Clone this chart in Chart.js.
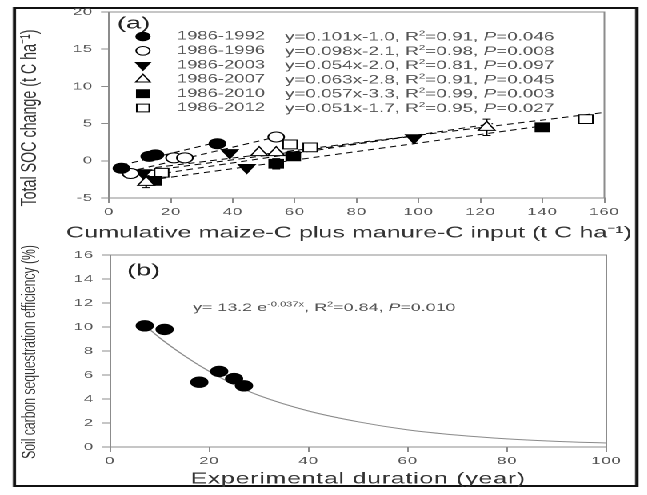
<!DOCTYPE html>
<html><head><meta charset="utf-8">
<script src="https://cdn.jsdelivr.net/npm/chart.js@4.4.1/dist/chart.umd.min.js"></script>
<style>
html,body{margin:0;padding:0;background:#fff;overflow:hidden;width:647px;height:495px;}
#stage{position:absolute;left:0;top:0;height:495px;transform-origin:0 0;}
#frame{position:absolute;border:2px solid #111;box-sizing:border-box;}
canvas{position:absolute;left:0;}
</style></head>
<body><div id="stage"><div id="frame"></div><canvas id="ca"></canvas><canvas id="cb"></canvas></div>
<script>
// ---------------- data: panel (a) ----------------
const periods = ['1986-1992','1986-1996','1986-2003','1986-2007','1986-2010','1986-2012'];
const input1992 = [4, 13, 15, 35];        const soc1992 = [-1.0, 0.6, 0.8, 2.3];
const input1996 = [7, 21, 24.5, 54];      const soc1996 = [-1.7, 0.4, 0.4, 3.2];
const input2003 = [11, 39, 44.5, 98.5];   const soc2003 = [-1.6, 1.1, -0.9, 3.1];
const input2007 = [12, 48.5, 54, 122];    const soc2007 = [-2.9, 1.1, 1.1, 4.5];
const input2010 = [14.5, 54, 59.5, 140];  const soc2010 = [-2.7, -0.4, 0.6, 4.5];
const input2012 = [17, 58.5, 65, 154];    const soc2012 = [-1.6, 2.2, 1.8, 5.6];
const err1992 = [0, 0, 0, 0];
const err1996 = [0, 0, 0, 0];
const err2003 = [0, 0, 0, 0];
const err2007 = [0.7, 0, 0, 1.1];
const err2010 = [0, 0.7, 0, 0];
const err2012 = [0, 0, 0, 0];
// fitted regression lines (end points)
const fitX1992 = [4, 36];    const fitY1992 = [-0.6, 2.6];
const fitX1996 = [6, 56];    const fitY1996 = [-1.5, 3.4];
const fitX2003 = [10, 100];  const fitY2003 = [-1.5, 3.4];
const fitX2007 = [11, 124];  const fitY2007 = [-2.1, 5.0];
const fitX2010 = [13, 142];  const fitY2010 = [-2.6, 4.8];
const fitX2012 = [15, 160];  const fitY2012 = [-0.9, 6.5];
const slopes = ['0.101','0.098','0.054','0.063','0.057','0.051'];
const intercepts = ['-1.0','-2.1','-2.0','-2.8','-3.3','-1.7'];
const r2vals = ['0.91','0.98','0.81','0.91','0.99','0.95'];
const pvals = ['0.046','0.008','0.097','0.045','0.003','0.027'];
const xTicksA = [0, 20, 40, 60, 80, 100, 120, 140, 160];
const yTicksA = [-5, 0, 5, 10, 15, 20];
const xTitleA = 'Cumulative maize-C plus manure-C input (t C ha\u207B\u00B9)';
const yTitleA = 'Total SOC change (t C ha\u207B\u00B9)';
// ---------------- data: panel (b) ----------------
const duration = [7, 11, 18, 22, 25, 27];
const efficiency = [10.1, 9.8, 5.4, 6.3, 5.7, 5.1];
const curveX = [8, 10, 15, 20, 25, 30, 40, 50, 60, 70, 80, 90, 100];
const curveY = [9.8, 9.1, 7.6, 6.3, 5.2, 4.3, 3.0, 2.1, 1.43, 0.99, 0.68, 0.47, 0.33];
const xTicksB = [0, 20, 40, 60, 80, 100];
const yTicksB = [0, 2, 4, 6, 8, 10, 12, 14, 16];
const xTitleB = 'Experimental duration (year)';
const yTitleB = 'Soil carbon sequestration efficiency (%)';

// ---------------- layout ----------------
const S = 1.6;                 // horizontal stretch of the original figure
const W = 647 / S;
const px = v => v / S;
const FONT = '"Liberation Sans", Arial, sans-serif';
const stage = document.getElementById('stage');
stage.style.width = W + 'px';
stage.style.transform = 'scaleX(' + S + ')';
const frame = document.getElementById('frame');
frame.style.left = px(13) + 'px'; frame.style.top = '7px';
frame.style.width = (px(638) - px(13)) + 'px'; frame.style.height = '480px';

function pts(xs, ys){ return xs.map((x,i)=>({x, y: ys[i]})); }

function richText(ctx, segs, x, y, size, color){
  let cx = x;
  ctx.save();
  ctx.fillStyle = color; ctx.textBaseline = 'alphabetic'; ctx.textAlign = 'left';
  for (const s of segs){
    const fs = s.sup ? size*0.62 : size;
    ctx.font = (s.it ? 'italic ' : '') + fs + 'px ' + FONT;
    ctx.fillText(s.t, cx, y - (s.sup ? size*0.42 : 0));
    cx += ctx.measureText(s.t).width;
  }
  ctx.restore();
}

// vertical axis title sized to a given length, centred at (cx, cy)
function vTitle(ctx, text, cx, cy, len, color){
  ctx.save();
  ctx.letterSpacing = '0px';
  ctx.font = '12px ' + FONT;
  const size = 12 * len / ctx.measureText(text).width;
  ctx.font = size + 'px ' + FONT;
  ctx.translate(cx, cy); ctx.rotate(-Math.PI / 2);
  ctx.fillStyle = color; ctx.textAlign = 'center'; ctx.textBaseline = 'middle';
  ctx.fillText(text, 0, 0);
  ctx.restore();
}

// letter spacing for tick texts, reset before marks are drawn
const spacingPlugin = {
  id: 'spacing',
  beforeDraw(chart){ chart.ctx.letterSpacing = '0.5px'; },
  beforeDatasetsDraw(chart){ chart.ctx.letterSpacing = '0px'; }
};

const boxPlugin = {
  id: 'box',
  beforeDatasetsDraw(chart){
    const {ctx, chartArea: a} = chart;
    ctx.save(); ctx.strokeStyle = '#8c8c8c'; ctx.lineWidth = 1;
    ctx.beginPath();
    ctx.moveTo(a.left, a.top); ctx.lineTo(a.right, a.top); ctx.lineTo(a.right, a.bottom);
    ctx.stroke(); ctx.restore();
  }
};

const styles = [
  {pointStyle:'circle',   rotation:0,   fill:'#000', r:5,   lr:4.3},
  {pointStyle:'circle',   rotation:0,   fill:'#fff', r:5,   lr:4.3},
  {pointStyle:'triangle', rotation:180, fill:'#000', r:6,   lr:5.2},
  {pointStyle:'triangle', rotation:0,   fill:'#fff', r:6,   lr:5.2},
  {pointStyle:'rect',     rotation:0,   fill:'#000', r:6.2, lr:5.5},
  {pointStyle:'rect',     rotation:0,   fill:'#fff', r:6.2, lr:5.5},
];
const inputs = [input1992, input1996, input2003, input2007, input2010, input2012];
const socs = [soc1992, soc1996, soc2003, soc2007, soc2010, soc2012];
const errs = [err1992, err1996, err2003, err2007, err2010, err2012];
const fitXs = [fitX1992, fitX1996, fitX2003, fitX2007, fitX2010, fitX2012];
const fitYs = [fitY1992, fitY1996, fitY2003, fitY2007, fitY2010, fitY2012];

const errPlugin = {
  id: 'err',
  beforeDatasetsDraw(chart){
    const {ctx, scales:{x, y}} = chart;
    ctx.save(); ctx.strokeStyle = '#000'; ctx.lineWidth = 1;
    errs.forEach((e, si) => e.forEach((v, i) => {
      if (!v) return;
      const cx = x.getPixelForValue(inputs[si][i]);
      const y1 = y.getPixelForValue(socs[si][i] - v), y2 = y.getPixelForValue(socs[si][i] + v);
      ctx.beginPath();
      ctx.moveTo(cx, y1); ctx.lineTo(cx, y2);
      ctx.moveTo(cx-2.5, y1); ctx.lineTo(cx+2.5, y1);
      ctx.moveTo(cx-2.5, y2); ctx.lineTo(cx+2.5, y2);
      ctx.stroke();
    }));
    ctx.restore();
  }
};

const legendPlugin = {
  id: 'leg',
  afterDraw(chart){
    const ctx = chart.ctx;
    ctx.save();
    ctx.letterSpacing = '0px';
    // axis titles of panel (a) (wider than the plot, so not squeezed by Chart.js's maxWidth)
    ctx.font = '15.7px ' + FONT; ctx.fillStyle = '#333'; ctx.textBaseline = 'middle'; ctx.textAlign = 'center';
    ctx.fillText(xTitleA, px(349), 233);
    vTitle(ctx, yTitleA, px(30), 118, 177, '#333');
    ctx.textAlign = 'left'; ctx.textBaseline = 'middle';
    ctx.font = '17px ' + FONT; ctx.fillStyle = '#222';
    ctx.fillText('(a)', px(117), 24);
    periods.forEach((p, i) => {
      const yy = 36.5 + 14.3*i;
      const st = styles[i];
      ctx.fillStyle = st.fill; ctx.strokeStyle = '#000'; ctx.lineWidth = 1;
      Chart.helpers.drawPoint(ctx, {pointStyle: st.pointStyle, rotation: st.rotation, radius: st.lr, borderWidth: 1}, px(143), yy);
      ctx.fillStyle = '#555'; ctx.font = '11.5px ' + FONT; ctx.textBaseline = 'middle';
      ctx.fillText(p, px(177), yy);
      richText(ctx, [
        {t: 'y=' + slopes[i] + 'x' + intercepts[i] + ', R'}, {t: '2', sup: true},
        {t: '=' + r2vals[i] + ', '}, {t: 'P', it: true}, {t: '=' + pvals[i]}
      ], px(285), yy + 4, 11.8, '#555');
    });
    ctx.restore();
  }
};

function axisCommon(ticksArr, fontSize){
  return {
    type: 'linear',
    ticks: {color: '#555', font: {family: FONT, size: fontSize}, padding: 3, autoSkip: false},
    afterBuildTicks(s){ s.ticks = ticksArr.map(v => ({value: v})); },
    grid: {drawOnChartArea: false, tickLength: 5, color: '#8c8c8c'},
    border: {color: '#8c8c8c'}
  };
}

// ---------------- chart (a) ----------------
const ca = document.getElementById('ca');
ca.width = W; ca.height = 250; ca.style.top = '0px';
const dsA = [];
periods.forEach((p, i) => {
  const st = styles[i];
  dsA.push({type: 'scatter', label: p, data: pts(inputs[i], socs[i]), order: 0,
    pointStyle: st.pointStyle, rotation: st.rotation, radius: st.r,
    backgroundColor: st.fill, borderColor: '#000', borderWidth: 1});
});
periods.forEach((p, i) => {
  dsA.push({type: 'line', label: p + ' fit', data: pts(fitXs[i], fitYs[i]), order: 1,
    borderColor: '#000', borderWidth: 1, borderDash: [4, 3], pointRadius: 0, fill: false});
});
const xA = axisCommon(xTicksA, 10.5);
Object.assign(xA, {min: 0, max: 160, title: {display: false}, afterFit(s){ s.height = 52; }});
const yA = axisCommon(yTicksA, 10.5);
yA.ticks.padding = 5;
Object.assign(yA, {min: -5, max: 20, title: {display: false}, afterFit(s){ s.width = px(109); }});
new Chart(ca, {
  type: 'scatter',
  data: {datasets: dsA},
  options: {
    responsive: false, devicePixelRatio: 2, animation: false,
    layout: {padding: {top: 12, left: 0, bottom: 0, right: W - px(605)}},
    plugins: {legend: {display: false}, tooltip: {enabled: false}},
    scales: {x: xA, y: yA}
  },
  plugins: [spacingPlugin, boxPlugin, errPlugin, legendPlugin]
});

// ---------------- chart (b) ----------------
const cb = document.getElementById('cb');
const topB = 228;
cb.width = W; cb.height = 495 - topB; cb.style.top = topB + 'px';
const labelPluginB = {
  id: 'labB',
  afterDraw(chart){
    const ctx = chart.ctx;
    ctx.save();
    ctx.letterSpacing = '0px';
    vTitle(ctx, yTitleB, px(30), 352 - topB, 214, '#333');
    ctx.font = '17px ' + FONT; ctx.fillStyle = '#222'; ctx.textBaseline = 'middle'; ctx.textAlign = 'left';
    ctx.fillText('(b)', px(127), 271 - topB);
    richText(ctx, [
      {t: 'y= 13.2 e'}, {t: '-0.037x', sup: true}, {t: ', R'}, {t: '2', sup: true},
      {t: '=0.84, '}, {t: 'P', it: true}, {t: '=0.010'}
    ], px(193), 311 - topB, 11.2, '#555');
    ctx.restore();
  }
};
const xB = axisCommon(xTicksB, 10.5);
Object.assign(xB, {min: 0, max: 100,
  title: {display: true, text: xTitleB, color: '#333',
    font: {family: FONT, size: 15.5}, padding: {top: 0, bottom: 6.5}},
  afterFit(s){ s.height = 495 - 447; }});
const yB = axisCommon(yTicksB, 10.5);
yB.ticks.padding = 5;
Object.assign(yB, {min: 0, max: 16, title: {display: false}, afterFit(s){ s.width = px(110); }});
new Chart(cb, {
  type: 'scatter',
  data: {datasets: [
    {type: 'scatter', label: 'efficiency', data: pts(duration, efficiency), order: 0,
      pointStyle: 'circle', radius: 5.2, backgroundColor: '#000', borderColor: '#000', borderWidth: 1},
    {type: 'line', label: 'fit', data: pts(curveX, curveY), order: 1,
      borderColor: '#8a8a8a', borderWidth: 1, pointRadius: 0, tension: 0.4, cubicInterpolationMode: 'monotone', fill: false}
  ]},
  options: {
    responsive: false, devicePixelRatio: 2, animation: false,
    layout: {padding: {top: 255 - topB, left: 0, bottom: 0, right: W - px(607)}},
    plugins: {legend: {display: false}, tooltip: {enabled: false}},
    scales: {x: xB, y: yB}
  },
  plugins: [spacingPlugin, boxPlugin, labelPluginB]
});
</script></body></html>
